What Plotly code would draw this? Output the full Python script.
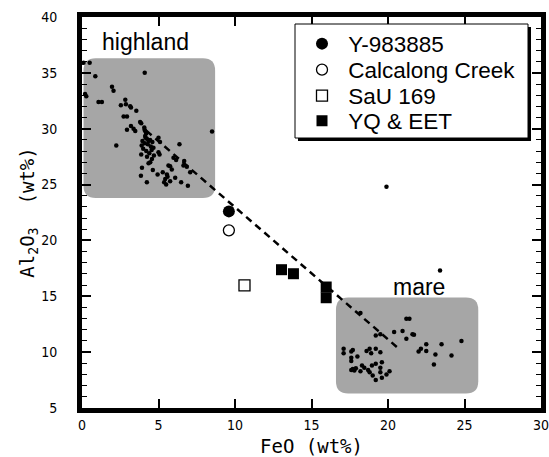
import plotly.graph_objects as go

# ---- data ----
highland_x = [0.1, 0.5, 0.2, 0.28, 0.87, 4.1, 1.96, 2.06, 1.08, 1.3, 2.83, 2.54, 2.87, 3.15, 3.2,
              3.55, 2.72, 2.94, 3.8, 3.87, 3.2, 3.37, 2.94, 4.09, 8.5, 2.24, 3.48, 4.07, 4.13, 4.2,
              4.13, 4.24, 4.35, 5.0, 5.1, 6.37, 3.9, 4.0, 3.87, 4.67, 5.0, 5.07, 4.57, 4.46, 5.98,
              6.15, 6.68, 6.63, 6.85, 4.35, 3.92, 5.65, 5.76, 5.87, 7.07, 4.63, 4.94, 5.28, 5.55,
              5.59, 3.85, 6.09, 5.44, 5.37, 5.5, 5.76, 6.48, 6.92, 4.24,
              4.1, 4.3, 4.5, 4.2, 4.4, 4.6, 3.95, 4.25, 4.45, 4.55, 4.7, 4.15]
highland_y = [35.9, 35.9, 33.1, 32.9, 34.7, 35.0, 33.75, 33.4, 32.4, 32.4, 32.6, 32.1, 32.2, 32.0, 31.9,
              31.6, 31.1, 31.1, 30.6, 30.5, 30.25, 30.0, 29.9, 29.9, 29.75, 28.5, 29.8, 30.1, 29.8, 29.6,
              29.35, 29.1, 28.9, 29.2, 28.8, 28.6, 28.5, 28.2, 27.7, 28.3, 27.9, 27.7, 27.3, 27.0, 27.4,
              27.2, 27.1, 26.7, 26.6, 26.9, 26.5, 26.7, 26.65, 26.35, 26.1, 26.3, 25.9, 26.1, 25.9,
              25.7, 25.8, 25.6, 25.5, 25.2, 25.0, 25.3, 25.2, 24.9, 25.2,
              28.7, 28.6, 28.4, 28.0, 27.8, 28.8, 28.9, 27.5, 29.0, 28.1, 27.6, 29.2]

mare_x = [18.2, 21.2, 21.4, 19.2, 19.5, 20.4, 20.95, 21.6, 21.7, 21.2, 22.5, 23.5, 24.8, 22.0, 22.15,
          22.5, 23.1, 24.15, 23.0, 17.1, 17.1, 17.7, 17.6, 18.0, 17.6, 17.6, 18.6, 18.8, 18.9, 19.2,
          19.5, 17.7, 17.8, 17.9, 17.6, 18.2, 18.3, 18.45, 18.7, 18.8, 18.95, 19.2, 19.6, 19.5, 19.0,
          19.2, 19.5, 19.6, 19.9, 20.1]
mare_y = [13.5, 13.0, 13.0, 11.5, 11.6, 11.8, 11.9, 11.6, 11.55, 11.2, 10.7, 10.7, 11.0, 10.05, 10.3,
          10.1, 9.8, 9.7, 8.9, 10.3, 9.9, 10.2, 10.05, 9.6, 9.5, 9.2, 10.1, 10.3, 9.9, 10.3,
          10.0, 8.5, 8.35, 8.55, 8.4, 8.3, 8.8, 8.6, 8.4, 8.2, 8.8, 8.95, 9.1, 8.6, 7.9,
          7.5, 8.2, 7.7, 8.0, 8.3]

other_x = [19.9, 23.4]
other_y = [24.8, 17.3]

y98_x, y98_y = [9.6], [22.6]
cal_x, cal_y = [9.6], [20.9]
sau_x, sau_y = [10.62], [15.97]
yq_x = [13.04, 13.82, 15.96, 15.96]
yq_y = [17.38, 17.02, 15.83, 14.87]

trend_x = [4.2, 20.8]
trend_y = [29.83, 10.2]

highland_box = [0.1, 8.7, 23.8, 36.3]
mare_box = [16.6, 25.9, 6.3, 14.9]

x_ticks = [0, 5, 10, 15, 20, 25, 30]
y_ticks = [5, 10, 15, 20, 25, 30, 35, 40]

legend_names = ["Y-983885", "Calcalong Creek", "SaU 169", "YQ & EET"]

# ---- figure ----
W, H = 549, 457
ML, MR, MT, MB = 82, 8, 17, 49
PW, PH = W - ML - MR, H - MT - MB

def px2paper(px, py):
    return (px - ML) / PW, (H - MB - py) / PH

def rounded(x0, x1, y0, y1, rx=0.8, ry=1.1):
    return (f"M {x0+rx},{y0} L {x1-rx},{y0} Q {x1},{y0} {x1},{y0+ry} "
            f"L {x1},{y1-ry} Q {x1},{y1} {x1-rx},{y1} L {x0+rx},{y1} "
            f"Q {x0},{y1} {x0},{y1-ry} L {x0},{y0+ry} Q {x0},{y0} {x0+rx},{y0} Z")

fig = go.Figure()

grey = "#a6a6a6"
shapes = []
for b in (highland_box, mare_box):
    shapes.append(dict(type="path", xref="x", yref="y", path=rounded(*b),
                       fillcolor=grey, line=dict(width=0), layer="below"))

# legend box with shadow
lx0, ly0 = px2paper(295, 138)
lx1, ly1 = px2paper(528, 24)
sx, sy = 3 / PW, 3 / PH
shapes.append(dict(type="rect", xref="paper", yref="paper", x0=lx0 + sx, x1=lx1 + sx,
                   y0=ly0 - sy, y1=ly1 - sy, fillcolor="black", line=dict(width=0), layer="above"))
shapes.append(dict(type="rect", xref="paper", yref="paper", x0=lx0, x1=lx1, y0=ly0, y1=ly1,
                   fillcolor="white", line=dict(color="black", width=1), layer="above"))

fig.add_trace(go.Scatter(x=trend_x, y=trend_y, mode="lines",
                         line=dict(color="black", width=2.5, dash="7px,5px"),
                         showlegend=False, hoverinfo="skip"))

dot = dict(color="black", size=4.5)
fig.add_trace(go.Scatter(x=highland_x, y=highland_y, mode="markers", marker=dot, showlegend=False))
fig.add_trace(go.Scatter(x=mare_x, y=mare_y, mode="markers", marker=dot, showlegend=False))
fig.add_trace(go.Scatter(x=other_x, y=other_y, mode="markers", marker=dot, showlegend=False))

pad = "\u00a0"
fig.add_trace(go.Scatter(x=y98_x, y=y98_y, mode="markers", name=pad + legend_names[0], legend="legend",
                         marker=dict(symbol="circle", size=12, color="black")))
fig.add_trace(go.Scatter(x=cal_x, y=cal_y, mode="markers", name=pad + legend_names[1], legend="legend2",
                         marker=dict(symbol="circle-open", size=11, color="black",
                                     line=dict(width=1.3))))
fig.add_trace(go.Scatter(x=sau_x, y=sau_y, mode="markers", name=pad + legend_names[2], legend="legend3",
                         marker=dict(symbol="square-open", size=11, color="black",
                                     line=dict(width=1.3))))
fig.add_trace(go.Scatter(x=yq_x, y=yq_y, mode="markers", name=pad + legend_names[3], legend="legend4",
                         marker=dict(symbol="square", size=11, color="black")))

legend_font = dict(family="Liberation Sans, Arial, sans-serif", size=22.5, color="black")
row_y = [44, 70, 96, 121]
legends = {}
for i, ry in enumerate(row_y):
    gx, gy = px2paper(302, ry)
    key = "legend" if i == 0 else f"legend{i+1}"
    legends[key] = dict(x=gx, y=gy, xanchor="left", yanchor="middle", itemwidth=30,
                        bgcolor="rgba(0,0,0,0)", borderwidth=0, font=legend_font)

tickfont = dict(family="Liberation Sans Narrow, DejaVu Sans Condensed, Arial Narrow, sans-serif",
                size=14, color="black")
titlefont = dict(family="DejaVu Sans Mono, Liberation Mono, monospace", size=19, color="black")

axis_common = dict(showline=True, linewidth=5, linecolor="black", mirror="ticks",
                   ticks="inside", ticklen=9, tickwidth=1.5, tickcolor="black",
                   showgrid=False, zeroline=False, tickfont=tickfont, title_font=titlefont,
                   automargin=False, ticklabeloverflow="allow")

fig.update_layout(
    width=W, height=H,
    margin=dict(l=ML, r=MR, t=MT, b=MB),
    paper_bgcolor="white", plot_bgcolor="white",
    shapes=shapes,
    showlegend=True,
    **legends,
    xaxis=dict(range=[0, 30], tickvals=x_ticks, ticktext=[str(v) for v in x_ticks],
               title=dict(text="FeO (wt%)", standoff=9), ticklabelstandoff=0, **axis_common),
    yaxis=dict(range=[5, 40], tickvals=y_ticks, ticktext=[str(v) for v in y_ticks],
               title=dict(text="Al<sub>2</sub>O<sub>3</sub>  (wt%)", standoff=2),
               ticklabelstandoff=17,
               minor=dict(dtick=1, ticks="inside", ticklen=5, tickwidth=1, tickcolor="black"),
               **axis_common),
    annotations=[
        dict(x=4.15, y=37.8, xref="x", yref="y", text="highland", showarrow=False,
             font=dict(family="Liberation Sans, Arial, sans-serif", size=23, color="black")),
        dict(x=22.05, y=15.85, xref="x", yref="y", text="mare", showarrow=False,
             font=dict(family="Liberation Sans, Arial, sans-serif", size=23, color="black")),
    ],
)

fig.write_html("out.html", config={"displayModeBar": False},
               post_script="document.body.style.margin='0px'; document.body.style.overflow='hidden';")
